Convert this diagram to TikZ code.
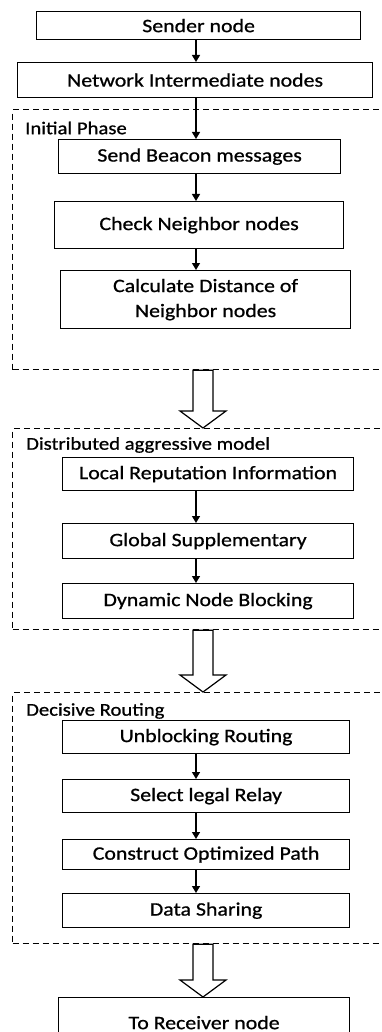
\documentclass[tikz,border=0pt]{standalone}
\usepackage{fontspec}
\setmainfont{Carlito}[FakeStretch=1.15,FakeBold=0.8]
\usetikzlibrary{positioning}
\usetikzlibrary{arrows.meta}
\usetikzlibrary{calc}
\tikzset{
stepbox/.style={rectangle,draw=black,line width=1.2pt,inner sep=0pt,anchor=north west,align=center,font=\fontsize{19}{25}\selectfont}
}
\tikzset{
phasebox/.style={rectangle,draw=black,line width=1.3pt,dash pattern=on 6pt off 4pt,inner sep=0pt,anchor=north west}
}
\tikzset{
phaselabel/.style={inner sep=0pt,anchor=west,font=\fontsize{18}{22}\selectfont}
}
\tikzset{
flow/.style={line width=1.4pt,-{Triangle[width=8pt,length=7pt]}},
hollow/.style={line width=1.2pt,draw=black,fill=white}
}

\begin{document}
\begin{tikzpicture}[x=1pt,y=-1pt]
\useasboundingbox (0,0) rectangle (382,1032);
\coordinate (ax) at (196,0);

\node[stepbox,minimum width=324pt,minimum height=28pt] (sender) at (36,11) {Sender node};
\node[stepbox,minimum width=355pt,minimum height=35pt] (network) at (17,62) {Network Intermediate nodes};
%------------------------------------------------------------------------------------------------------------%
\node[phasebox,minimum width=388pt,minimum height=260pt] (phase1) at (12,109) {};
\node[phaselabel] (lab1) at (25,128) {Initial Phase};
\node[stepbox,minimum width=282pt,minimum height=34pt] (beacon) at (58,139) {Send Beacon messages};
\node[stepbox,minimum width=289pt,minimum height=47pt] (check) at (54,201) {Check Neighbor nodes};
\node[stepbox,minimum width=290pt,minimum height=58pt] (calc) at (60,270) {Calculate Distance of\\Neighbor nodes};
%------------------------------------------------------------------------------------------------------------%
\node[phasebox,minimum width=388pt,minimum height=201pt] (phase2) at (12,428) {};
\node[phaselabel] (lab2) at (26,445) {Distributed aggressive model};
\node[stepbox,minimum width=291pt,minimum height=33pt] (local) at (62,457) {Local Reputation Information};
\node[stepbox,minimum width=291pt,minimum height=35pt] (global) at (62,523) {Global Supplementary};
\node[stepbox,minimum width=291pt,minimum height=35pt] (dynamic) at (62,583) {Dynamic Node Blocking};
%------------------------------------------------------------------------------------------------------------%
\node[phasebox,minimum width=388pt,minimum height=251pt] (phase3) at (12,692) {};
\node[phaselabel] (lab3) at (26,711) {Decisive Routing};
\node[stepbox,minimum width=287pt,minimum height=33pt] (unblock) at (62,720) {Unblocking Routing};
\node[stepbox,minimum width=287pt,minimum height=33pt] (relay) at (62,779) {Select legal Relay};
\node[stepbox,minimum width=287pt,minimum height=30pt] (construct) at (62,839) {Construct Optimized Path};
\node[stepbox,minimum width=287pt,minimum height=34pt] (sharing) at (62,893) {Data Sharing};
%------------------------------------------------------------------------------------------------------------%
\node[stepbox,minimum width=291pt,minimum height=50pt] (receiver) at (58,997) {To Receiver node};

\foreach \a/\b in {sender/network,network/beacon,beacon/check,check/calc,local/global,global/dynamic,unblock/relay,relay/construct,construct/sharing}
{
\draw[flow] (\a.south -| ax) -- (\b.north -| ax);
}

\foreach \a/\b in {phase1/phase2,phase2/phase3,phase3/receiver}
{
\draw[hollow] let \p1=(\a.south), \p2=(\b.north) in
(193pt,\y1) -- (193pt,\y2+17pt) -- (180pt,\y2+17pt) -- (203pt,\y2) -- (226pt,\y2+17pt) -- (213pt,\y2+17pt) -- (213pt,\y1) -- cycle;
}

\end{tikzpicture}
\end{document}
